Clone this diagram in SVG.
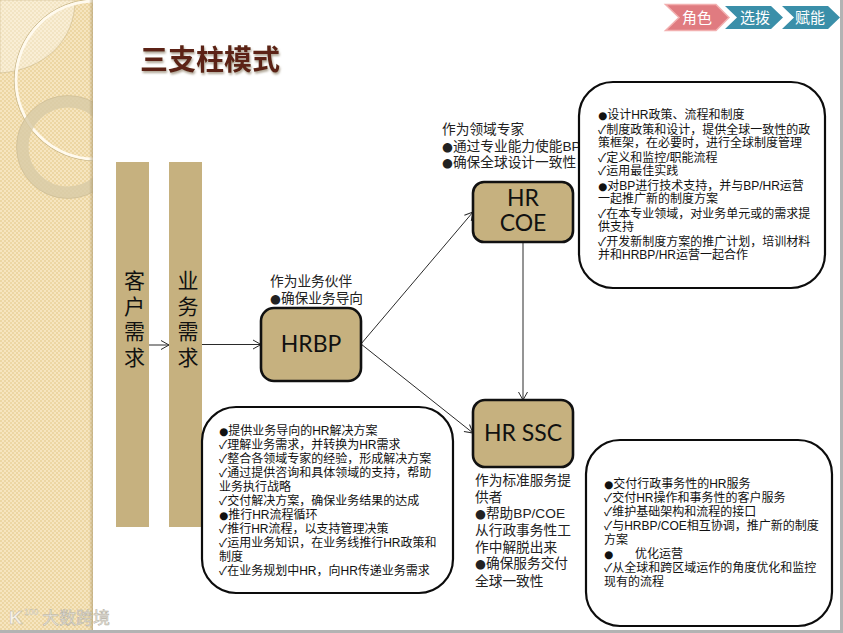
<svg xmlns="http://www.w3.org/2000/svg" width="843" height="633" viewBox="0 0 843 633">
<style>
text{font-family:"Liberation Sans","Noto Sans CJK SC","DejaVu Sans",sans-serif;fill:#111}
.s{font-size:12px}
.m{font-size:13.7px;fill:#222}
.b{font-family:"DejaVu Sans",sans-serif;font-size:10.5px}
.mb{font-family:"DejaVu Sans",sans-serif;font-size:12.5px}
.n{font-family:Lato,"Noto Sans",sans-serif;font-size:23px;text-anchor:middle;fill:#111}
.p{font-size:21px;text-anchor:middle;fill:#111}
.c{font-size:15px;fill:#fff;text-anchor:middle}
.box{fill:#fff;stroke:#0c0c0c;stroke-width:2.2}
.node{fill:#c6b17f;stroke:#111;stroke-width:2.6}
.pillar{fill:#c6b17f}
.link{fill:none;stroke:#2a2a2a;stroke-width:1;marker-end:url(#arrow)}
</style>
<defs>
<marker id="arrow" markerUnits="userSpaceOnUse" markerWidth="12" markerHeight="12" refX="10" refY="6" orient="auto">
<path d="M2,1.500 L10,6 L2,10.500" fill="none" stroke="#2a2a2a" stroke-width="1"/>
</marker>
<pattern id="tex" width="4" height="4" patternUnits="userSpaceOnUse">
<rect width="4" height="4" fill="#f6e5bf"/>
<rect width="2" height="2" fill="#ecd6a3"/>
<rect x="2" y="2" width="2" height="2" fill="#ecd6a3"/>
</pattern>
<clipPath id="side"><rect width="93" height="630"/></clipPath>
<linearGradient id="edge" x1="0" x2="1"><stop offset="0" stop-color="#a8956a" stop-opacity="0"/><stop offset="1" stop-color="#a8956a" stop-opacity=".6"/></linearGradient>
<filter id="shadow" x="-10%" y="-20%" width="120%" height="150%"><feDropShadow dx="1" dy="2" stdDeviation="1.2" flood-color="#7a6a50" flood-opacity=".6"/></filter>
</defs>
<rect width="843" height="633" fill="#fff"/>
<g id="sidebar" clip-path="url(#side)">
<rect width="93" height="630" fill="url(#tex)"/>
<path d="M0,0 H75 C75,40 45,70 0,73 Z" fill="#fff" fill-opacity=".35" stroke="#c2ae80" stroke-opacity=".6" stroke-width=".8"/>
<circle cx="95" cy="80" r="80.700" fill="none" stroke="#c9b78a" stroke-width="1"/>
<circle cx="95" cy="80" r="79" fill="none" stroke="#fffaee" stroke-width="2.800"/>
<circle cx="68" cy="147" r="45.500" fill="none" stroke="#d8cba6" stroke-opacity=".8" stroke-width="12"/>
<circle cx="68" cy="147" r="51.500" fill="none" stroke="#c4b48c" stroke-opacity=".6" stroke-width=".8"/>
<rect x="89" width="4" height="630" fill="url(#edge)"/>
</g>
<rect x="840" width="3" height="633" fill="#b3b3b3"/>
<rect y="630" width="843" height="3" fill="#b3b3b3"/>
<g id="watermark">
<text x="9" y="624" font-size="19" font-weight="bold" style="fill:#f5f1e6;stroke:#b8b09c;stroke-width:.4">K</text>
<text x="24" y="615" font-size="8.500" style="fill:#f5f1e6;stroke:#b8b09c;stroke-width:.3">100</text>
<text x="42" y="624" font-size="17" style="fill:#e9e5da;stroke:#b5b1a6;stroke-width:.5">大数跨境</text>
</g>
<g id="title"><text x="140" y="70" font-size="28" font-weight="bold" filter="url(#shadow)" style="fill:#5b2413">三支柱模式</text></g>
<g id="tabs">
<g id="tab-role"><path d="M665.500,4.500 H716 L729,17.500 L716,30.500 H665.500 L679,17.500 Z" fill="#e07b80" stroke="#f2b0b0" stroke-width="1.500"/><text class="c" x="697" y="23">角色</text></g>
<g id="tab-select"><path d="M725,6 H771 L783,17.500 L771,29 H725 L737,17.500 Z" fill="#3a8fa9"/><text class="c" x="755" y="23">选拨</text></g>
<g id="tab-enable"><path d="M782,6 H828 L840,17.500 L828,29 H782 L794,17.500 Z" fill="#3a8fa9"/><text class="c" x="810" y="23">赋能</text></g>
</g>
<g id="connectors">
<path class="link" d="M149,345 H169"/>
<path class="link" d="M202,344.500 H261"/>
<path class="link" d="M361,344 L473,212"/>
<path class="link" d="M361,344 L473,433"/>
<path class="link" d="M523,242 V400"/>
</g>
<g id="pillar-customer"><rect class="pillar" x="116" y="162" width="33" height="365"/>
<text class="p" x="134.500" y="288">客</text><text class="p" x="134.500" y="314">户</text><text class="p" x="134.500" y="339">需</text><text class="p" x="134.500" y="365">求</text></g>
<g id="pillar-business"><rect class="pillar" x="169" y="162" width="33" height="365"/>
<text class="p" x="188" y="288">业</text><text class="p" x="188" y="314">务</text><text class="p" x="188" y="339">需</text><text class="p" x="188" y="365">求</text></g>
<g id="label-coe">
<text class="m" x="442" y="134">作为领域专家</text>
<text class="m" x="442" y="151"><tspan class="mb">●</tspan>通过专业能力使能BP</text>
<text class="m" x="442" y="167"><tspan class="mb">●</tspan>确保全球设计一致性</text>
</g>
<g id="label-bp">
<text class="m" x="270" y="286">作为业务伙伴</text>
<text class="m" x="270" y="303"><tspan class="mb">●</tspan>确保业务导向</text>
</g>
<g id="label-ssc">
<text class="m" x="475" y="485">作为标准服务提</text>
<text class="m" x="475" y="502">供者</text>
<text class="m" x="475" y="518"><tspan class="mb">●</tspan>帮助BP/COE</text>
<text class="m" x="475" y="535">从行政事务性工</text>
<text class="m" x="475" y="552">作中解脱出来</text>
<text class="m" x="475" y="568"><tspan class="mb">●</tspan>确保服务交付</text>
<text class="m" x="475" y="586">全球一致性</text>
</g>
<g id="node-hrbp"><rect class="node" x="261" y="308" width="100" height="73" rx="13"/><text class="n" x="311" y="352">HRBP</text></g>
<g id="node-coe"><rect class="node" x="473" y="182" width="100" height="60" rx="11"/><text class="n"><tspan x="523" y="206">HR</tspan><tspan x="523" y="231">COE</tspan></text></g>
<g id="node-ssc"><rect class="node" x="473" y="400" width="100" height="67" rx="12"/><text class="n" x="523" y="441">HR SSC</text></g>
<g id="box-coe"><rect class="box" x="579" y="82" width="246" height="206" rx="34"/>
<text class="s" x="598" y="119"><tspan class="b">●</tspan>设计HR政策、流程和制度</text>
<text class="s" x="598" y="134">✓制度政策和设计，提供全球一致性的政</text>
<text class="s" x="598" y="147">策框架，在必要时，进行全球制度管理</text>
<text class="s" x="598" y="162">✓定义和监控/职能流程</text>
<text class="s" x="598" y="175">✓运用最佳实践</text>
<text class="s" x="598" y="190"><tspan class="b">●</tspan>对BP进行技术支持，并与BP/HR运营</text>
<text class="s" x="598" y="203">一起推广新的制度方案</text>
<text class="s" x="598" y="218">✓在本专业领域，对业务单元或的需求提</text>
<text class="s" x="598" y="231">供支持</text>
<text class="s" x="598" y="246">✓开发新制度方案的推广计划，培训材料</text>
<text class="s" x="598" y="259">并和HRBP/HR运营一起合作</text>
</g>
<g id="box-bp"><rect class="box" x="202" y="407" width="251" height="186" rx="34"/>
<text class="s" x="219" y="435"><tspan class="b">●</tspan>提供业务导向的HR解决方案</text>
<text class="s" x="219" y="449">✓理解业务需求，并转换为HR需求</text>
<text class="s" x="219" y="463">✓整合各领域专家的经验，形成解决方案</text>
<text class="s" x="219" y="477">✓通过提供咨询和具体领域的支持，帮助</text>
<text class="s" x="219" y="491">业务执行战略</text>
<text class="s" x="219" y="505">✓交付解决方案，确保业务结果的达成</text>
<text class="s" x="219" y="519"><tspan class="b">●</tspan>推行HR流程循环</text>
<text class="s" x="219" y="533">✓推行HR流程，以支持管理决策</text>
<text class="s" x="219" y="547">✓运用业务知识，在业务线推行HR政策和</text>
<text class="s" x="219" y="561">制度</text>
<text class="s" x="219" y="575">✓在业务规划中HR，向HR传递业务需求</text>
</g>
<g id="box-ssc"><rect class="box" x="586" y="440" width="246" height="186" rx="34"/>
<text class="s" x="604" y="488"><tspan class="b">●</tspan>交付行政事务性的HR服务</text>
<text class="s" x="604" y="502">✓交付HR操作和事务性的客户服务</text>
<text class="s" x="604" y="516">✓维护基础架构和流程的接口</text>
<text class="s" x="604" y="530">✓与HRBP/COE相互协调，推广新的制度</text>
<text class="s" x="604" y="544">方案</text>
<text class="s" x="604" y="558"><tspan class="b">●</tspan></text><text class="s" x="635" y="558">优化运营</text>
<text class="s" x="604" y="572">✓从全球和跨区域运作的角度优化和监控</text>
<text class="s" x="604" y="586">现有的流程</text>
</g>
</svg>
